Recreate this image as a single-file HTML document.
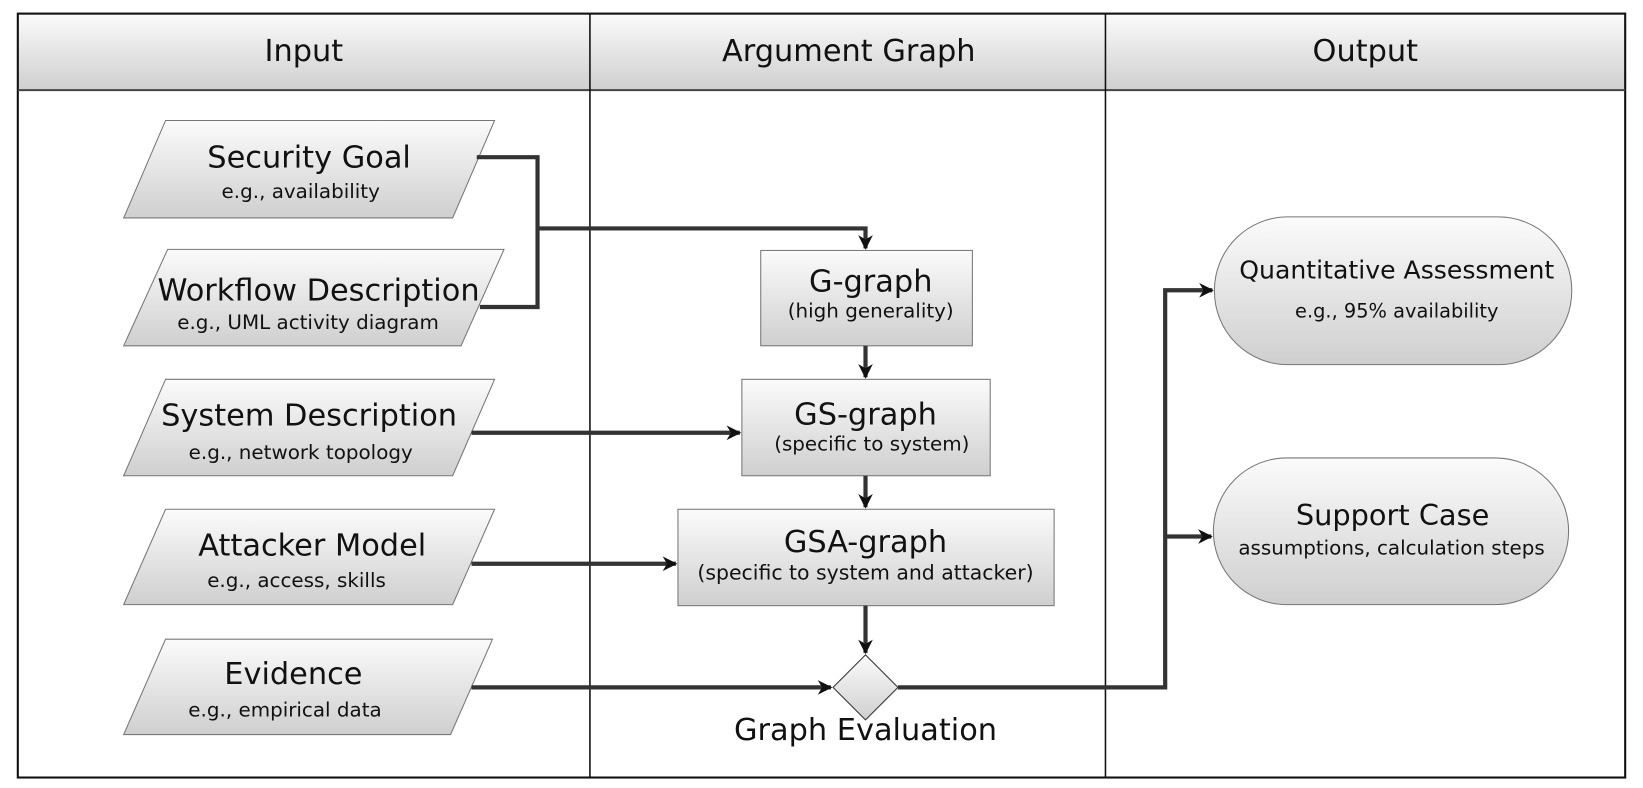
<!DOCTYPE html>
<html><head><meta charset="utf-8"><style>html,body{margin:0;padding:0;background:#fff}svg{display:block}</style></head>
<body>
<svg width="1643" height="788" viewBox="0 0 1568 752" preserveAspectRatio="none" xmlns="http://www.w3.org/2000/svg" font-family="DejaVu Sans, sans-serif">
<defs>
<linearGradient id="g" x1="0" y1="0" x2="0" y2="1"><stop offset="0" stop-color="#fbfbfb"/><stop offset="1" stop-color="#cfcfcf"/></linearGradient>
<marker id="b" viewBox="0 0 10 10" refX="9" refY="5" markerWidth="6" markerHeight="3.5" orient="auto"><path d="M0,0 L10,5 L0,10 L3,5 z" fill="#111"/></marker>
</defs>
<rect x="17" y="13" width="1534" height="73" fill="url(#g)"/>
<rect x="17" y="13" width="1534" height="729" fill="none" stroke="#111" stroke-width="2"/>
<line x1="17" y1="86" x2="1551" y2="86" stroke="#444" stroke-width="2"/>
<line x1="563" y1="13" x2="563" y2="742" stroke="#111" stroke-width="1.5"/>
<line x1="1055" y1="13" x2="1055" y2="742" stroke="#111" stroke-width="1.5"/>
<g font-size="29" text-anchor="middle" fill="#111">
<text x="290" y="58">Input</text><text x="810" y="58">Argument Graph</text><text x="1303" y="58">Output</text>
</g>
<g fill="url(#g)" stroke="#777" stroke-width="1">
<polygon points="158,115 472,115 432,208 118,208"/>
<polygon points="160,238 481,238 440,330 118,330"/>
<polygon points="158,362 472,362 432,454 118,454"/>
<polygon points="158,486 472,486 432,577 118,577"/>
<polygon points="158,610 470,610 430,701 118,701"/>
<rect x="726" y="239" width="202" height="91"/>
<rect x="708" y="362" width="237" height="92"/>
<rect x="647" y="486" width="359" height="92"/>
<polygon points="826,625 857,656 826,687 795,656" stroke="#333"/>
<rect x="1159" y="207" width="341" height="141" rx="70"/>
<rect x="1158" y="437" width="339" height="140" rx="70"/>
</g>
<g stroke="#333" stroke-width="4" fill="none">
<polyline points="455,150 513,150 513,293 458,293"/>
<polyline points="513,218 826,218 826,237" marker-end="url(#b)"/>
<line x1="826" y1="330" x2="826" y2="360" marker-end="url(#b)"/>
<line x1="826" y1="454" x2="826" y2="484" marker-end="url(#b)"/>
<line x1="826" y1="578" x2="826" y2="623" marker-end="url(#b)"/>
<line x1="450" y1="413" x2="706" y2="413" marker-end="url(#b)"/>
<line x1="450" y1="538" x2="645" y2="538" marker-end="url(#b)"/>
<line x1="450" y1="656" x2="793" y2="656" marker-end="url(#b)"/>
<polyline points="857,656 1112,656 1112,277 1157,277" marker-end="url(#b)"/>
<line x1="1112" y1="512" x2="1156" y2="512" marker-end="url(#b)"/>
</g>
<g text-anchor="middle" fill="#111">
<text x="295" y="160" font-size="29">Security Goal</text><text x="287" y="189" font-size="19">e.g., availability</text>
<text x="304" y="287" font-size="29">Workflow Description</text><text x="294" y="314" font-size="19">e.g., UML activity diagram</text>
<text x="295" y="406" font-size="29">System Description</text><text x="287" y="438" font-size="19">e.g., network topology</text>
<text x="298" y="530" font-size="29">Attacker Model</text><text x="283" y="560" font-size="19">e.g., access, skills</text>
<text x="280" y="653" font-size="29">Evidence</text><text x="272" y="684" font-size="19">e.g., empirical data</text>
<text x="831" y="278" font-size="29">G-graph</text><text x="831" y="303" font-size="19">(high generality)</text>
<text x="826" y="405" font-size="29">GS-graph</text><text x="832" y="430" font-size="19">(specific to system)</text>
<text x="826" y="527" font-size="29">GSA-graph</text><text x="826" y="553" font-size="19.5">(specific to system and attacker)</text>
<text x="826" y="706" font-size="29">Graph Evaluation</text>
<text x="1333" y="266" font-size="24">Quantitative Assessment</text><text x="1333" y="303" font-size="18.5">e.g., 95% availability</text>
<text x="1329" y="501" font-size="27.5">Support Case</text><text x="1328" y="529" font-size="19">assumptions, calculation steps</text>
</g>
</svg>
</body></html>
